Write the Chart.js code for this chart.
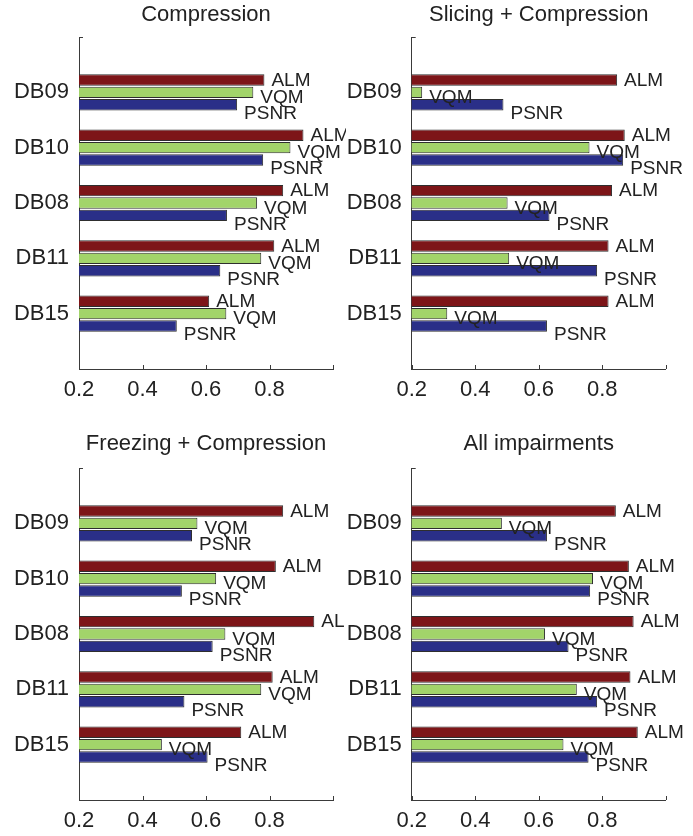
<!DOCTYPE html>
<html>
<head>
<meta charset="utf-8">
<script src="https://cdn.jsdelivr.net/npm/chart.js@4/dist/chart.umd.min.js"></script>
<style>
  html, body { margin: 0; padding: 0; background: #fff; }
  body { position: relative; width: 693px; height: 836px; overflow: hidden; }
  canvas { position: absolute; }
</style>
</head>
<body>
<canvas id="c1" width="346" height="418" style="left:0;top:0"></canvas>
<canvas id="c2" width="353" height="418" style="left:340px;top:0"></canvas>
<canvas id="c3" width="346" height="418" style="left:0;top:418px"></canvas>
<canvas id="c4" width="353" height="418" style="left:340px;top:418px"></canvas>
<script>
const categories = ['DB09', 'DB10', 'DB08', 'DB11', 'DB15'];
const metrics = ['ALM', 'VQM', 'PSNR'];
const panelTitles = ['Compression', 'Slicing + Compression', 'Freezing + Compression', 'All impairments'];

const compressionALM = [0.784, 0.907, 0.843, 0.815, 0.610];
const compressionVQM = [0.749, 0.866, 0.761, 0.774, 0.664];
const compressionPSNR = [0.698, 0.780, 0.666, 0.645, 0.508];

const slicingALM = [0.847, 0.871, 0.831, 0.820, 0.820];
const slicingVQM = [0.233, 0.760, 0.502, 0.507, 0.312];
const slicingPSNR = [0.489, 0.866, 0.634, 0.784, 0.626];

const freezingALM = [0.843, 0.820, 0.941, 0.810, 0.711];
const freezingVQM = [0.573, 0.632, 0.661, 0.774, 0.461];
const freezingPSNR = [0.556, 0.524, 0.621, 0.532, 0.605];

const allALM = [0.843, 0.884, 0.899, 0.889, 0.912];
const allVQM = [0.484, 0.771, 0.620, 0.720, 0.678];
const allPSNR = [0.626, 0.762, 0.694, 0.784, 0.757];

const xTickValues = [0.2, 0.4, 0.6, 0.8, 1.0];
const xTickLabels = ['0.2', '0.4', '0.6', '0.8', ''];

const metricColors = ['#7d1518', '#a2d46a', '#2a2f88'];
const fontFamily = '"Liberation Sans", Arial, Helvetica, sans-serif';
const textColor = '#222';
const axisColor = '#3a3a3a';
const labelShift = [0.5, 5.5, 9];

// put one empty slot above and below the groups, like the matlab y limits
const yLabels = ['', ...categories, ''];
const pad = arr => [null, ...arr, null];

const inwardTicks = {
  id: 'inwardTicks',
  beforeDatasetsDraw(chart) {
    const { ctx, chartArea, scales } = chart;
    ctx.save();
    ctx.strokeStyle = axisColor;
    ctx.lineWidth = 1;
    ctx.beginPath();
    scales.x.ticks.forEach((t, i) => {
      const px = Math.round(scales.x.getPixelForTick(i)) + 0.5;
      ctx.moveTo(px, chartArea.bottom);
      ctx.lineTo(px, chartArea.bottom - 4);
    });
    scales.y.ticks.forEach((t, i) => {
      const py = Math.round(scales.y.getPixelForTick(i)) + 0.5;
      ctx.moveTo(chartArea.left, py);
      ctx.lineTo(chartArea.left + 4, py);
    });
    ctx.stroke();
    ctx.restore();
  },
};

const barLabels = {
  id: 'barLabels',
  afterDatasetsDraw(chart) {
    const { ctx } = chart;
    ctx.save();
    ctx.font = `19px ${fontFamily}`;
    ctx.fillStyle = textColor;
    ctx.textBaseline = 'middle';
    ctx.textAlign = 'left';
    chart.data.datasets.forEach((ds, di) => {
      chart.getDatasetMeta(di).data.forEach((bar, i) => {
        if (ds.data[i] == null) return;
        ctx.fillText(ds.label, bar.x + 7, bar.y + labelShift[di]);
      });
    });
    ctx.restore();
  },
};

function makePanel(id, title, series, geo) {
  const ctx = document.getElementById(id).getContext('2d');
  return new Chart(ctx, {
    type: 'bar',
    data: {
      labels: yLabels,
      datasets: series.map((values, i) => ({
        label: metrics[i],
        data: pad(values),
        backgroundColor: metricColors[i],
        borderColor: '#2e2e2e',
        borderWidth: 1,
        borderSkipped: false,
        categoryPercentage: 0.67,
        barPercentage: 0.92,
      })),
    },
    options: {
      indexAxis: 'y',
      responsive: false,
      animation: false,
      events: [],
      layout: { padding: { left: 0, right: geo.right, top: 0, bottom: 0 } },
      plugins: {
        legend: { display: false },
        tooltip: { enabled: false },
        title: {
          display: true,
          text: title,
          fullSize: false,
          color: textColor,
          font: { family: fontFamily, size: 22, weight: 'normal' },
          padding: { top: geo.titleTop, bottom: geo.titleBottom },
        },
      },
      scales: {
        x: {
          type: 'linear',
          min: 0.2,
          max: 1.0,
          afterBuildTicks: s => {
            s.ticks = xTickValues.map(v => ({ value: v }));
          },
          afterFit: s => {
            s.height = geo.xHeight;
          },
          grid: { display: false, drawTicks: false },
          border: { display: true, color: axisColor, width: 1 },
          ticks: {
            padding: 8,
            color: textColor,
            font: { family: fontFamily, size: 22 },
            callback: (v, i) => xTickLabels[i],
          },
        },
        y: {
          offset: false,
          afterFit: s => {
            s.width = geo.yWidth;
          },
          grid: { display: false, drawTicks: false },
          border: { display: true, color: axisColor, width: 1 },
          ticks: {
            padding: 10,
            color: textColor,
            autoSkip: false,
            font: { family: fontFamily, size: 22 },
          },
        },
      },
    },
    plugins: [inwardTicks, barLabels],
  });
}

const topGeo = { titleTop: 1.5, titleBottom: 9.1, xHeight: 49 };
const bottomGeo = { titleTop: 12.8, titleBottom: 10.8, xHeight: 36 };

makePanel('c1', panelTitles[0], [compressionALM, compressionVQM, compressionPSNR],
  { ...topGeo, yWidth: 79, right: 13 });
makePanel('c2', panelTitles[1], [slicingALM, slicingVQM, slicingPSNR],
  { ...topGeo, yWidth: 71.7, right: 27.3 });
makePanel('c3', panelTitles[2], [freezingALM, freezingVQM, freezingPSNR],
  { ...bottomGeo, yWidth: 79, right: 13 });
makePanel('c4', panelTitles[3], [allALM, allVQM, allPSNR],
  { ...bottomGeo, yWidth: 71.7, right: 27.3 });
</script>
</body>
</html>
